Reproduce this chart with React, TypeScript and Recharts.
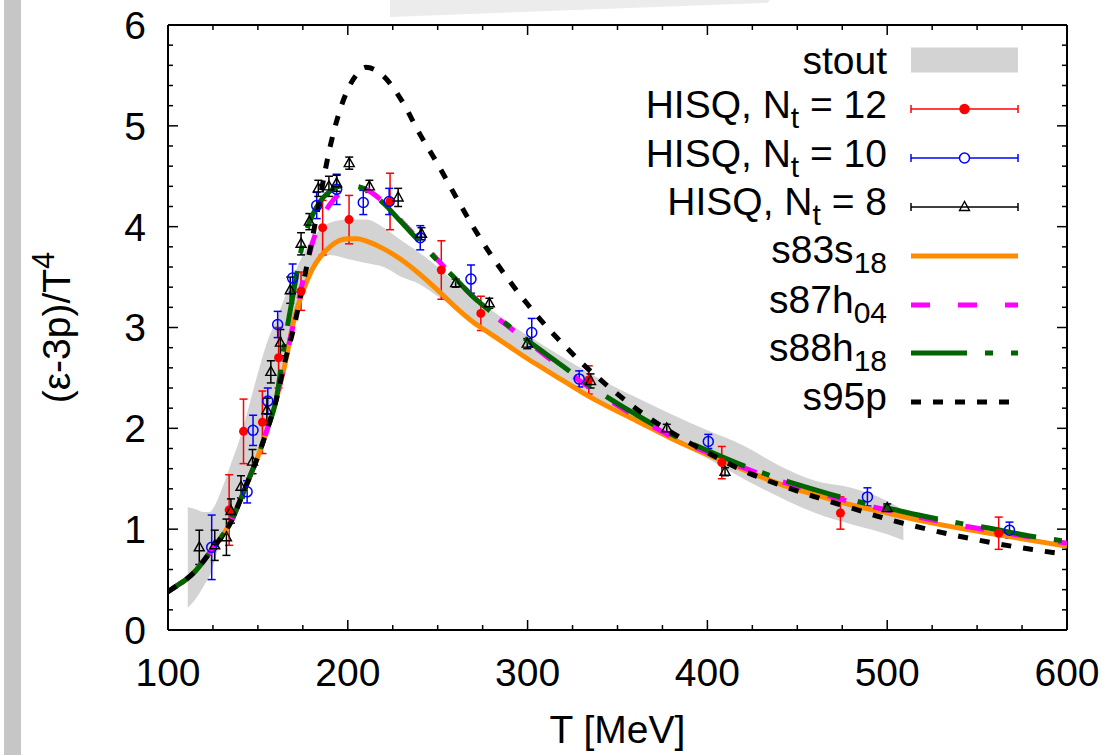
import React from 'react';
import { Area, ComposedChart, ErrorBar, Legend, Line, ReferenceLine, Scatter, XAxis, YAxis } from 'recharts';

const FONT = '"Liberation Sans", Arial, Helvetica, sans-serif';

// plot frame (chart margins + axis sizes below)
const W = 1108;
const H = 755;
const MARGIN = { top: 25, right: 41, bottom: 0, left: 0 };
const Y_AXIS_W = 168;
const X_AXIS_H = 125;
const PLOT_LEFT = MARGIN.left + Y_AXIS_W;
const PLOT_RIGHT = W - MARGIN.right;
const PLOT_TOP = MARGIN.top;
const PLOT_BOTTOM = H - MARGIN.bottom - X_AXIS_H;

// axis ticks
const X_MAJOR = [100, 200, 300, 400, 500, 600];
const X_TICKS = [100, 125, 150, 175, 200, 225, 250, 275, 300, 325, 350, 375, 400, 425, 450, 475, 500, 525, 550, 575, 600];
const Y_MAJOR = [0, 1, 2, 3, 4, 5, 6];
const Y_TICKS = [
  0, 0.2, 0.4, 0.6, 0.8, 1, 1.2, 1.4, 1.6, 1.8, 2, 2.2, 2.4, 2.6, 2.8, 3,
  3.2, 3.4, 3.6, 3.8, 4, 4.2, 4.4, 4.6, 4.8, 5, 5.2, 5.4, 5.6, 5.8, 6,
];

// stout band (T, lower, upper)
const STOUT_T = [111, 115, 120, 123, 127, 130, 135, 140, 145, 150, 155, 160, 165, 170, 175, 180, 185, 190, 200, 210, 220, 230, 240, 250, 260, 270, 280, 290, 300, 310, 320, 340, 360, 380, 400, 420, 440, 460, 480, 500, 509];
const STOUT_LO = [0.22, 0.3, 0.44, 0.53, 0.75, 0.92, 1.12, 1.32, 1.52, 1.78, 2.06, 2.38, 2.72, 3.05, 3.33, 3.55, 3.67, 3.72, 3.68, 3.64, 3.6, 3.5, 3.43, 3.31, 3.19, 3.06, 2.94, 2.81, 2.67, 2.57, 2.48, 2.25, 2.06, 1.88, 1.7, 1.5, 1.32, 1.16, 1.05, 0.95, 0.89];
const STOUT_HI = [1.22, 1.2, 1.17, 1.17, 1.27, 1.4, 1.65, 1.9, 2.22, 2.55, 2.85, 3.07, 3.3, 3.52, 3.72, 3.88, 3.98, 4.04, 4.07, 4.07, 3.99, 3.86, 3.74, 3.6, 3.44, 3.28, 3.17, 3.04, 2.92, 2.81, 2.7, 2.49, 2.31, 2.14, 1.98, 1.83, 1.63, 1.48, 1.41, 1.28, 1.19];

// common low-T part of all parametrizations
const LOW_T = [100, 105, 110, 115, 120, 125, 130, 135, 140, 145, 150, 155, 160];
const LOW_V = [0.38, 0.44, 0.5, 0.58, 0.69, 0.81, 0.93, 1.07, 1.28, 1.5, 1.72, 1.98, 2.27];

const TAIL_T = [165, 170, 175, 180, 185, 190, 195, 200, 205, 210, 220, 230, 240, 250, 260, 270, 280, 290, 300, 310, 320, 330, 340, 360, 380, 400, 420, 440, 460, 480, 500, 520, 540, 560, 580, 600];
const S83S18 = [2.63, 3.07, 3.36, 3.57, 3.71, 3.8, 3.86, 3.88, 3.88, 3.86, 3.78, 3.67, 3.53, 3.37, 3.2, 3.05, 2.93, 2.81, 2.69, 2.58, 2.47, 2.36, 2.26, 2.08, 1.9, 1.74, 1.59, 1.45, 1.34, 1.24, 1.16, 1.08, 1.01, 0.95, 0.89, 0.83];
const S87H04 = [2.66, 3.05, 3.46, 3.82, 4.06, 4.22, 4.32, 4.37, 4.39, 4.37, 4.24, 4.05, 3.86, 3.67, 3.48, 3.3, 3.14, 3.0, 2.86, 2.72, 2.59, 2.46, 2.34, 2.12, 1.92, 1.76, 1.61, 1.48, 1.37, 1.27, 1.19, 1.11, 1.04, 0.98, 0.92, 0.86];
const S88H18 = [2.86, 3.37, 3.84, 4.1, 4.26, 4.35, 4.4, 4.41, 4.4, 4.37, 4.23, 4.04, 3.85, 3.66, 3.48, 3.3, 3.15, 3.01, 2.87, 2.74, 2.61, 2.48, 2.36, 2.14, 1.94, 1.78, 1.63, 1.5, 1.39, 1.29, 1.21, 1.13, 1.06, 1.0, 0.93, 0.88];
const S95P = [2.66, 3.0, 3.42, 3.86, 4.33, 4.78, 5.12, 5.36, 5.51, 5.58, 5.49, 5.25, 4.92, 4.62, 4.3, 3.99, 3.71, 3.46, 3.23, 3.02, 2.83, 2.65, 2.49, 2.2, 1.96, 1.76, 1.58, 1.44, 1.32, 1.21, 1.1, 1.01, 0.93, 0.86, 0.8, 0.75];

// HISQ lattice points
const NT12_T = [134, 142, 152.5, 161.5, 174, 186, 200.7, 223.5, 252, 274, 334, 408, 474, 562];
const NT12_V = [1.19, 1.97, 2.06, 2.7, 3.36, 3.99, 4.07, 4.25, 3.57, 3.14, 2.48, 1.66, 1.16, 0.96];
const NT12_E = [0.35, 0.32, 0.31, 0.3, 0.19, 0.27, 0.24, 0.28, 0.29, 0.17, 0.14, 0.16, 0.16, 0.16];

const NT10_T = [124.3, 144, 147.3, 155.5, 161, 169.3, 182.7, 193.8, 208.6, 223, 240.3, 268.5, 302.3, 328.7, 400.5, 489, 568];
const NT10_V = [0.82, 1.37, 1.98, 2.27, 3.03, 3.49, 4.21, 4.37, 4.24, 4.25, 3.89, 3.48, 2.95, 2.49, 1.87, 1.32, 0.99];
const NT10_E = [0.32, 0.11, 0.15, 0.13, 0.13, 0.14, 0.13, 0.15, 0.12, 0.13, 0.12, 0.14, 0.14, 0.08, 0.07, 0.09, 0.08];

const NT8_T = [117.4, 126, 132.5, 135, 140.6, 147, 155, 157.2, 162.5, 168, 174, 178.6, 183.6, 189.5, 193.8, 200.8, 212, 228, 241, 260, 278.7, 299.8, 335, 377.4, 409.8, 500];
const NT8_V = [0.82, 0.84, 0.92, 1.18, 1.42, 1.67, 2.18, 2.56, 2.85, 3.37, 3.83, 4.05, 4.38, 4.4, 4.43, 4.63, 4.4, 4.29, 3.93, 3.44, 3.24, 2.84, 2.47, 2.0, 1.57, 1.21];
const NT8_E = [0.17, 0.15, 0.18, 0.12, 0.11, 0.12, 0.12, 0.11, 0.13, 0.13, 0.11, 0.08, 0.08, 0.1, 0.08, 0.06, 0.06, 0.09, 0.06, 0.04, 0.05, 0.05, 0.07, 0.04, 0.04, 0.04];

const curve = (vals: number[]) =>
  [...LOW_T.map((T, i) => ({ T, v: LOW_V[i] })), ...TAIL_T.map((T, i) => ({ T, v: vals[i] }))];
const points = (ts: number[], vs: number[], es: number[]) => ts.map((T, i) => ({ T, v: vs[i], e: es[i] }));

const stoutData = STOUT_T.map((T, i) => ({ T, band: [STOUT_LO[i], STOUT_HI[i]] }));
const nt12 = points(NT12_T, NT12_V, NT12_E);
const nt10 = points(NT10_T, NT10_V, NT10_E);
const nt8 = points(NT8_T, NT8_V, NT8_E);

const textStyle = { fontSize: 39, fill: '#000', fontFamily: FONT };
const frame = { stroke: '#000', strokeWidth: 2 };

// inward ticks on both sides of the box, labels only on the major ones
function XTick({ x, y, payload }: any) {
  const major = X_MAJOR.includes(payload.value);
  const len = major ? 10 : 5;
  return (
    <g>
      <line x1={x} x2={x} y1={PLOT_BOTTOM} y2={PLOT_BOTTOM - len} stroke="#000" strokeWidth={1.5} />
      <line x1={x} x2={x} y1={PLOT_TOP} y2={PLOT_TOP + len} stroke="#000" strokeWidth={1.5} />
      {major && (
        <text x={x} y={y} dy="0.71em" textAnchor="middle" style={textStyle}>
          {payload.value}
        </text>
      )}
    </g>
  );
}

function YTick({ x, y, payload }: any) {
  const major = Y_MAJOR.includes(payload.value);
  const len = major ? 10 : 5;
  return (
    <g>
      <line x1={PLOT_LEFT} x2={PLOT_LEFT + len} y1={y} y2={y} stroke="#000" strokeWidth={1.5} />
      <line x1={PLOT_RIGHT} x2={PLOT_RIGHT - len} y1={y} y2={y} stroke="#000" strokeWidth={1.5} />
      {major && (
        <text x={x} y={y} dy="0.355em" textAnchor="end" style={textStyle}>
          {payload.value}
        </text>
      )}
    </g>
  );
}

const RedDot = (p: any) => <circle cx={p.cx} cy={p.cy} r={4.5} fill="#ff0000" />;
const BlueRing = (p: any) => <circle cx={p.cx} cy={p.cy} r={5} fill="none" stroke="#0000ff" strokeWidth={1.5} />;
const Triangle = (p: any) => (
  <polygon
    points={`${p.cx},${p.cy - 5.5} ${p.cx - 5},${p.cy + 3.5} ${p.cx + 5},${p.cy + 3.5}`}
    fill="none"
    stroke="#000"
    strokeWidth={1.4}
  />
);

function YLabel(props: any) {
  const vb = props.viewBox || { x: 0, y: PLOT_TOP, width: Y_AXIS_W, height: PLOT_BOTTOM - PLOT_TOP };
  const cy = vb.y + vb.height / 2;
  return (
    <text transform={`translate(70, ${cy}) rotate(-90)`} textAnchor="middle" style={textStyle}>
      (ε-3p)/T<tspan dy={-16} fontSize={31}>4</tspan>
    </text>
  );
}

const LEGEND = [
  { label: ['stout'], kind: 'band', base: 74, mid: 60 },
  { label: ['HISQ, N', 't', ' = 12'], kind: 'nt12', base: 118, mid: 109 },
  { label: ['HISQ, N', 't', ' = 10'], kind: 'nt10', base: 167, mid: 158 },
  { label: ['HISQ, N', 't', ' = 8'], kind: 'nt8', base: 215, mid: 207 },
  { label: ['s83s', '18'], kind: 's83', base: 263, mid: 256 },
  { label: ['s87h', '04'], kind: 's87', base: 313, mid: 305 },
  { label: ['s88h', '18'], kind: 's88', base: 361, mid: 353 },
  { label: ['s95p'], kind: 's95', base: 410, mid: 402 },
];

function Sample({ kind, y }: { kind: string; y: number }) {
  const x1 = 371;
  const x2 = 478;
  const xm = (x1 + x2) / 2;
  if (kind === 'band') return <rect x={x1} y={y - 12.5} width={x2 - x1} height={25} fill="#d3d3d3" />;
  if (kind.startsWith('nt')) {
    const c = kind === 'nt12' ? '#ff0000' : kind === 'nt10' ? '#0000ff' : '#000';
    return (
      <g stroke={c} strokeWidth={1.5}>
        <line x1={x1} x2={x2} y1={y} y2={y} />
        <line x1={x1} x2={x1} y1={y - 4} y2={y + 4} />
        <line x1={x2} x2={x2} y1={y - 4} y2={y + 4} />
        {kind === 'nt12' && <RedDot cx={xm} cy={y} />}
        {kind === 'nt10' && <circle cx={xm} cy={y} r={5} fill="#fff" stroke="#0000ff" strokeWidth={1.5} />}
        {kind === 'nt8' && <Triangle cx={xm} cy={y} />}
      </g>
    );
  }
  const style: Record<string, [string, string | undefined]> = {
    s83: ['#ff8c00', undefined],
    s87: ['#ff00ff', '19 28'],
    s88: ['#006400', '56 18 8 18'],
    s95: ['#000', '10 12'],
  };
  const [c, dash] = style[kind];
  return <line x1={x1} x2={x2} y1={y} y2={y} stroke={c} strokeWidth={5} strokeDasharray={dash} />;
}

function LegendBox() {
  return (
    <svg width={480} height={420} style={{ display: 'block' }}>
      {LEGEND.map((r) => (
        <g key={r.kind}>
          <text x={347} y={r.base} textAnchor="end" fontSize={39} fontFamily={FONT} fill="#000" style={{ whiteSpace: 'pre' }}>
            {r.label[0]}
            {r.label[1] && (
              <tspan dy={10} fontSize={30}>
                {r.label[1]}
              </tspan>
            )}
            {r.label[2] && (
              <tspan dy={-10} fontSize={39}>
                {r.label[2]}
              </tspan>
            )}
          </text>
          <Sample kind={r.kind} y={r.mid} />
        </g>
      ))}
    </svg>
  );
}

export default function App() {
  return (
    <div style={{ position: 'absolute', left: 0, top: 0, width: W, height: H, background: '#fff', fontFamily: FONT }}>
      <ComposedChart width={W} height={H} margin={MARGIN}>
        <XAxis
          dataKey="T"
          type="number"
          domain={[100, 600]}
          allowDataOverflow
          ticks={X_TICKS}
          interval={0}
          tickLine={false}
          tickSize={0}
          tickMargin={28}
          height={X_AXIS_H}
          axisLine={frame}
          tick={<XTick />}
          label={{ value: 'T [MeV]', position: 'insideBottom', offset: 12, style: textStyle }}
        />
        <YAxis
          type="number"
          domain={[0, 6]}
          allowDataOverflow
          ticks={Y_TICKS}
          interval={0}
          width={Y_AXIS_W}
          tickLine={false}
          tickSize={0}
          tickMargin={22}
          axisLine={frame}
          tick={<YTick />}
          label={<YLabel />}
        />
        <ReferenceLine y={6} stroke="#000" strokeWidth={2} />
        <ReferenceLine x={600} stroke="#000" strokeWidth={2} />

        <Area data={stoutData} dataKey="band" type="monotone" fill="#d3d3d3" fillOpacity={1} stroke="none" isAnimationActive={false} activeDot={false} />

        <Scatter data={nt12} dataKey="v" shape={RedDot} isAnimationActive={false}>
          <ErrorBar dataKey="e" direction="y" width={4} stroke="#ff0000" strokeWidth={1.5} />
        </Scatter>
        <Scatter data={nt10} dataKey="v" shape={BlueRing} isAnimationActive={false}>
          <ErrorBar dataKey="e" direction="y" width={4} stroke="#0000ff" strokeWidth={1.5} />
        </Scatter>
        <Scatter data={nt8} dataKey="v" shape={Triangle} isAnimationActive={false}>
          <ErrorBar dataKey="e" direction="y" width={4} stroke="#000" strokeWidth={1.5} />
        </Scatter>

        <Line data={curve(S83S18)} dataKey="v" type="monotone" stroke="#ff8c00" strokeWidth={5} dot={false} activeDot={false} isAnimationActive={false} />
        <Line data={curve(S87H04)} dataKey="v" type="monotone" stroke="#ff00ff" strokeWidth={5} strokeDasharray="19 28" dot={false} activeDot={false} isAnimationActive={false} />
        <Line data={curve(S88H18)} dataKey="v" type="monotone" stroke="#006400" strokeWidth={5} strokeDasharray="56 18 8 18" dot={false} activeDot={false} isAnimationActive={false} />
        <Line data={curve(S95P)} dataKey="v" type="monotone" stroke="#000" strokeWidth={5} strokeDasharray="10 12" dot={false} activeDot={false} isAnimationActive={false} />

        <Legend
          layout="vertical"
          align="center"
          verticalAlign="middle"
          content={() => <LegendBox />}
          wrapperStyle={{ left: 540, top: 0, width: 480, height: 420 }}
        />
      </ComposedChart>
      <div style={{ position: 'absolute', left: 4, top: 0, width: 17, height: H, background: '#c6c6c6' }} />
      <svg style={{ position: 'absolute', left: 388, top: 0 }} width={385} height={20}>
        <polygon points="2,0 382,0 379,3 2,17" fill="#ececec" />
      </svg>
    </div>
  );
}
